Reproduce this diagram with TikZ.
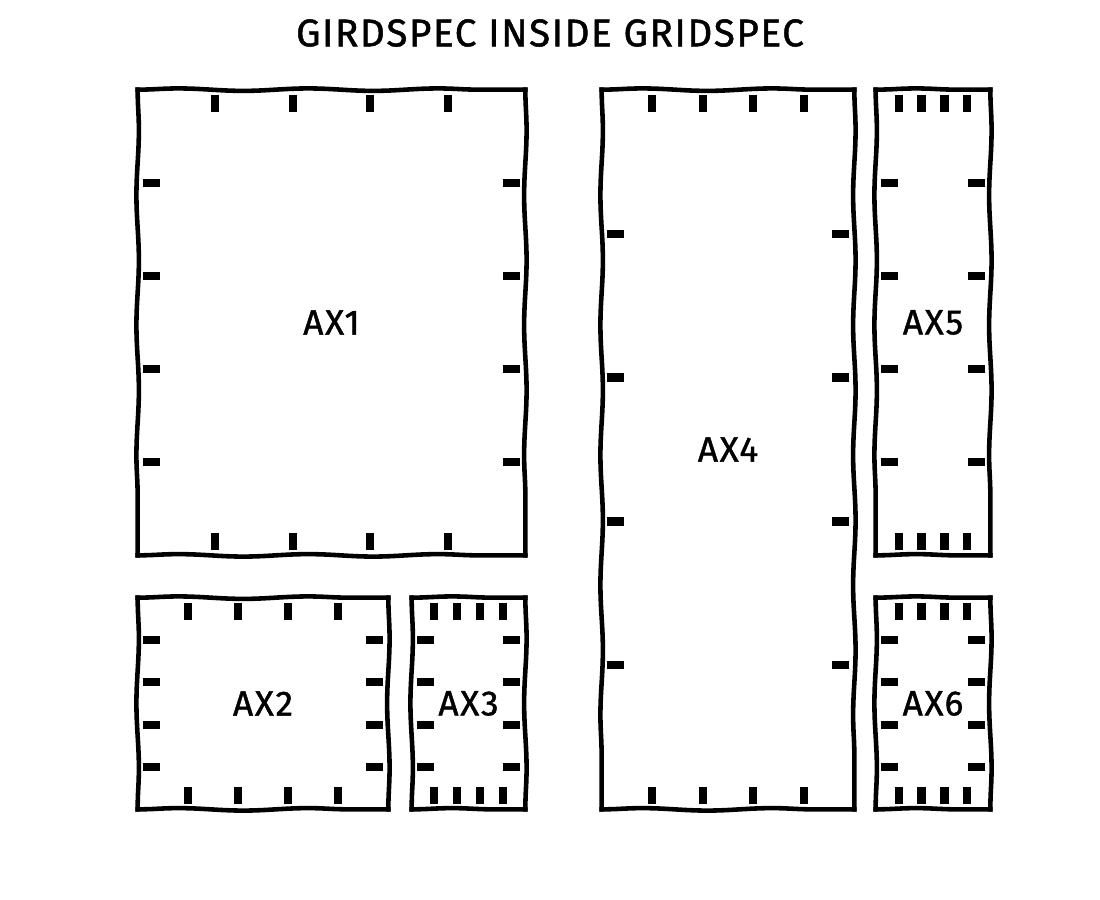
\documentclass[tikz,border=0pt]{standalone}
\usepackage{fontspec}
\setmainfont{Fira Sans}
\usetikzlibrary{calc,positioning,decorations.pathmorphing}

\newcommand{\pxu}{0.02cm}

\begin{document}
\begin{tikzpicture}[
		x=0.02cm, y=-0.02cm,
		axbox/.style={rectangle, inner sep=0pt,
			font=\fontsize{20}{22}\selectfont\addfontfeatures{LetterSpace=5,FakeBold=1.2}},
		axline/.style={line width=2.6pt, line cap=rect,
			decorate, decoration={snake, amplitude=0.7pt, segment length=2.6cm}},
		axtick/.style={line width=4.6pt}
	]
		\useasboundingbox (0,0) rectangle (1100,900);

		% Title
		\node[font=\fontsize{22}{24}\selectfont\addfontfeatures{LetterSpace=4,FakeBold=1.2}] (title) at (550,33) {GIRDSPEC INSIDE GRIDSPEC};

		% Axes (outer gridspec: left block and right block)
		\node[axbox, minimum width=387*\pxu, minimum height=465*\pxu] (ax1) at (331.5,322.5) {AX1};
		\node[axbox, minimum width=250*\pxu, minimum height=211*\pxu] (ax2) at (263,703.5) {AX2};
		\node[axbox, minimum width=113*\pxu, minimum height=211*\pxu] (ax3) at (468.5,703.5) {AX3};
		\node[axbox, minimum width=252*\pxu, minimum height=719*\pxu] (ax4) at (728,449.5) {AX4};
		\node[axbox, minimum width=114*\pxu, minimum height=465*\pxu] (ax5) at (933,322.5) {AX5};
		\node[axbox, minimum width=114*\pxu, minimum height=211*\pxu] (ax6) at (933,703.5) {AX6};

		% Frames, one side at a time, and inward ticks
		\foreach \ax in {ax1,ax2,ax3,ax4,ax5,ax6} {
			\draw[axline] (\ax.north west) -- (\ax.north east);
			\draw[axline] (\ax.south west) -- (\ax.south east);
			\draw[axline] (\ax.north west) -- (\ax.south west);
			\draw[axline] (\ax.north east) -- (\ax.south east);
			\foreach \f in {0.2,0.4,0.6,0.8} {
				\draw[axtick] ($(\ax.north west)!\f!(\ax.north east) + (0,5)$) -- ++(0,17);
				\draw[axtick] ($(\ax.south west)!\f!(\ax.south east) + (0,-5)$) -- ++(0,-17);
				\draw[axtick] ($(\ax.north west)!\f!(\ax.south west) + (5,0)$) -- ++(17,0);
				\draw[axtick] ($(\ax.north east)!\f!(\ax.south east) + (-5,0)$) -- ++(-17,0);
			}
		}
	\end{tikzpicture}
\end{document}
